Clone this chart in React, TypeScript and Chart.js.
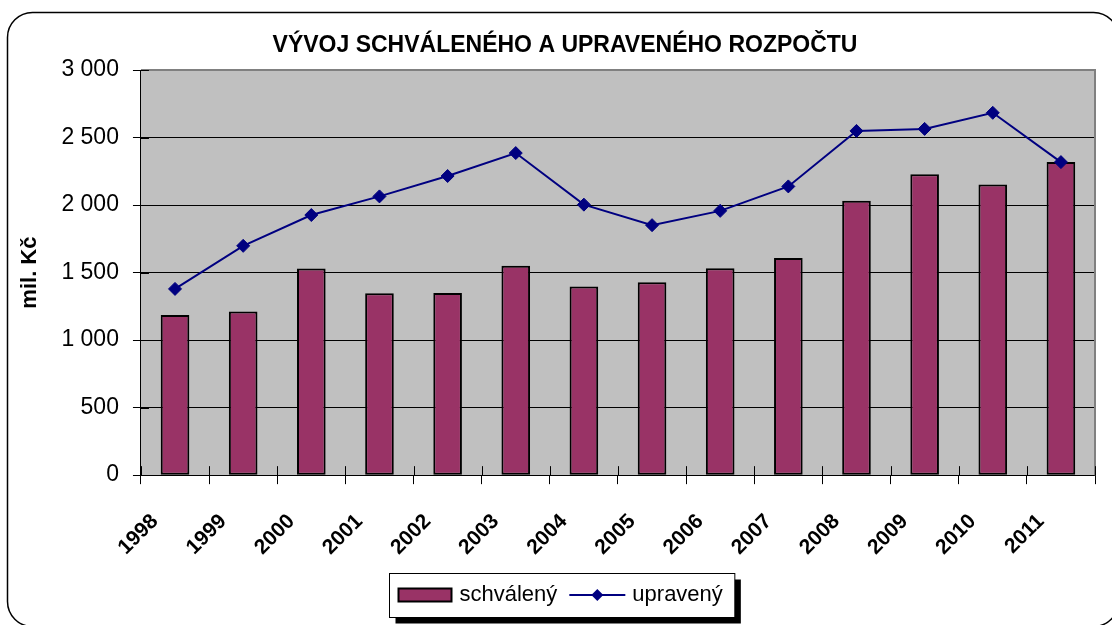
import React, { useEffect, useRef } from "react";
import { Chart, registerables } from "chart.js";

Chart.register(...registerables);

const chartTitle = "VÝVOJ SCHVÁLENÉHO A UPRAVENÉHO ROZPOČTU";
const yAxisTitle = "mil. Kč";
const years = ["1998", "1999", "2000", "2001", "2002", "2003", "2004", "2005", "2006", "2007", "2008", "2009", "2010", "2011"];
const schvaleny = [1186, 1212, 1531, 1347, 1349, 1550, 1396, 1428, 1532, 1607, 2032, 2228, 2153, 2319];
const upraveny = [1379, 1698, 1926, 2064, 2215, 2385, 2003, 1851, 1957, 2138, 2549, 2564, 2683, 2318];
const seriesNames = ["schválený", "upravený"];
const yMin = 0;
const yMax = 3000;
const yStep = 500;

const FONT = "'Liberation Sans', Arial, sans-serif";
const BAR_COLOR = "#993366";
const LINE_COLOR = "#000080";

const fmt = (v: number) => String(v).replace(/\B(?=(\d{3})+(?!\d))/g, " ");

const framePlugin = {
  id: "frame",
  beforeDraw(chart: any) {
    const { ctx, chartArea: a } = chart;
    ctx.save();
    ctx.strokeStyle = "#000";
    ctx.lineWidth = 1.5;
    ctx.beginPath();
    (ctx as any).roundRect(7.5, 12.5, 1111, 614, 25);
    ctx.stroke();
    ctx.fillStyle = "#C0C0C0";
    ctx.fillRect(a.left, a.top, a.right - a.left, a.bottom - a.top);
    ctx.restore();
  },
  beforeDatasetsDraw(chart: any) {
    const { ctx, chartArea: a, scales } = chart;
    ctx.save();
    ctx.strokeStyle = "#808080";
    ctx.lineWidth = 2;
    ctx.beginPath();
    ctx.moveTo(a.left, a.top);
    ctx.lineTo(a.right, a.top);
    ctx.lineTo(a.right, a.bottom);
    ctx.stroke();
    ctx.strokeStyle = "#000";
    ctx.lineWidth = 1;
    const y = scales.y;
    y.ticks.forEach((_t: any, i: number) => {
      const py = Math.round(y.getPixelForTick(i)) + 0.5;
      ctx.beginPath();
      ctx.moveTo(a.left, py);
      ctx.lineTo(a.left + 8, py);
      ctx.stroke();
    });
    const x = scales.x;
    const n = x.ticks.length;
    for (let i = 0; i <= n; i++) {
      const px = Math.round(x.getPixelForValue(i - 0.5)) + 0.5;
      ctx.beginPath();
      ctx.moveTo(px, a.bottom);
      ctx.lineTo(px, a.bottom - 9);
      ctx.stroke();
    }
    ctx.restore();
  },
  afterDraw(chart: any) {
    const { ctx } = chart;
    const o = chart.options.plugins.frame;
    ctx.save();
    ctx.fillStyle = "#000";
    ctx.font = `bold 23px ${FONT}`;
    ctx.textAlign = "center";
    ctx.textBaseline = "middle";
    ctx.fillText(chartTitle, o.titleX, o.titleY);

    ctx.font = `22px ${FONT}`;
    ctx.textAlign = "left";
    const w1 = ctx.measureText(seriesNames[0]).width;
    const w2 = ctx.measureText(seriesNames[1]).width;
    const padL = 9, swW = 53, gap1 = 8, gapMid = 12, lnW = 56, gap2 = 7, padR = 12;
    const boxW = padL + swW + gap1 + w1 + gapMid + lnW + gap2 + w2 + padR;
    const boxH = 44;
    const bx = Math.round(o.legendCX - boxW / 2) + 0.5;
    const by = Math.round(o.legendCY - boxH / 2) + 0.5;
    ctx.fillStyle = "#000";
    ctx.fillRect(bx + 6, by + 6, boxW, boxH);
    ctx.fillStyle = "#fff";
    ctx.fillRect(bx, by, boxW, boxH);
    ctx.strokeStyle = "#000";
    ctx.lineWidth = 1;
    ctx.strokeRect(bx, by, boxW, boxH);
    const cy = o.legendCY;
    let cx = bx + padL;
    ctx.fillStyle = BAR_COLOR;
    ctx.fillRect(cx, cy - 6.5, swW, 13);
    ctx.lineWidth = 2;
    ctx.strokeRect(cx, cy - 6.5, swW, 13);
    cx += swW + gap1;
    ctx.fillStyle = "#000";
    ctx.fillText(seriesNames[0], cx, cy);
    cx += w1 + gapMid;
    ctx.strokeStyle = LINE_COLOR;
    ctx.lineWidth = 2;
    ctx.beginPath();
    ctx.moveTo(cx, cy);
    ctx.lineTo(cx + lnW, cy);
    ctx.stroke();
    const mx = cx + lnW / 2;
    ctx.fillStyle = LINE_COLOR;
    ctx.beginPath();
    ctx.moveTo(mx, cy - 6);
    ctx.lineTo(mx + 6, cy);
    ctx.lineTo(mx, cy + 6);
    ctx.lineTo(mx - 6, cy);
    ctx.closePath();
    ctx.fill();
    cx += lnW + gap2;
    ctx.fillStyle = "#000";
    ctx.fillText(seriesNames[1], cx, cy);
    ctx.restore();
  },
};

export default function App() {
  const ref = useRef<HTMLCanvasElement | null>(null);
  useEffect(() => {
    if (!ref.current) return;
    const chart = new Chart(ref.current, {
      type: "bar",
      data: {
        labels: years,
        datasets: [
          {
            type: "line",
            label: seriesNames[1],
            data: upraveny,
            borderColor: LINE_COLOR,
            backgroundColor: LINE_COLOR,
            borderWidth: 2,
            pointStyle: "rectRot",
            pointRadius: 6.5,
            pointBackgroundColor: LINE_COLOR,
            pointBorderColor: LINE_COLOR,
            pointBorderWidth: 1,
            tension: 0,
            order: 0,
          } as any,
          {
            type: "bar",
            label: seriesNames[0],
            data: schvaleny,
            backgroundColor: BAR_COLOR,
            borderColor: "#000",
            borderWidth: 2,
            borderSkipped: false,
            barPercentage: 0.42,
            categoryPercentage: 1,
            order: 1,
          } as any,
        ],
      },
      options: {
        responsive: false,
        animation: false,
        layout: { padding: { left: 8, right: 17, top: 70, bottom: 40 } },
        font: { family: FONT },
        plugins: {
          legend: { display: false },
          title: { display: false },
          tooltip: { enabled: false },
          frame: { titleX: 565, titleY: 46, legendCX: 562, legendCY: 595 },
        } as any,
        scales: {
          x: {
            offset: true,
            grid: {
              display: true,
              drawOnChartArea: false,
              drawTicks: true,
              tickLength: 9,
              offset: true,
              color: "#000",
            },
            border: { display: true, color: "#000", width: 1 },
            ticks: {
              autoSkip: false,
              maxRotation: 45,
              minRotation: 45,
              labelOffset: -20,
              padding: 25,
              color: "#000",
              font: { family: FONT, size: 21, weight: "bold" },
            },
          },
          y: {
            min: yMin,
            max: yMax,
            grid: { color: "#000", lineWidth: 1, tickLength: 8, drawTicks: true },
            border: { display: true, color: "#000", width: 1 },
            ticks: {
              stepSize: yStep,
              padding: 14,
              color: "#000",
              font: { family: FONT, size: 23 },
              callback: (v: any) => fmt(Number(v)),
            },
            title: {
              display: true,
              text: yAxisTitle,
              color: "#000",
              font: { family: FONT, size: 22, weight: "bold" },
              padding: { top: 9, bottom: 4 },
            },
          },
        },
      },
      plugins: [framePlugin],
    } as any);
    return () => chart.destroy();
  }, []);
  return (
    <div style={{ position: "absolute", left: 0, top: 0, width: 1112, height: 625, overflow: "hidden", background: "#fff" }}>
      <canvas ref={ref} width={1112} height={625} style={{ display: "block" }} />
    </div>
  );
}
